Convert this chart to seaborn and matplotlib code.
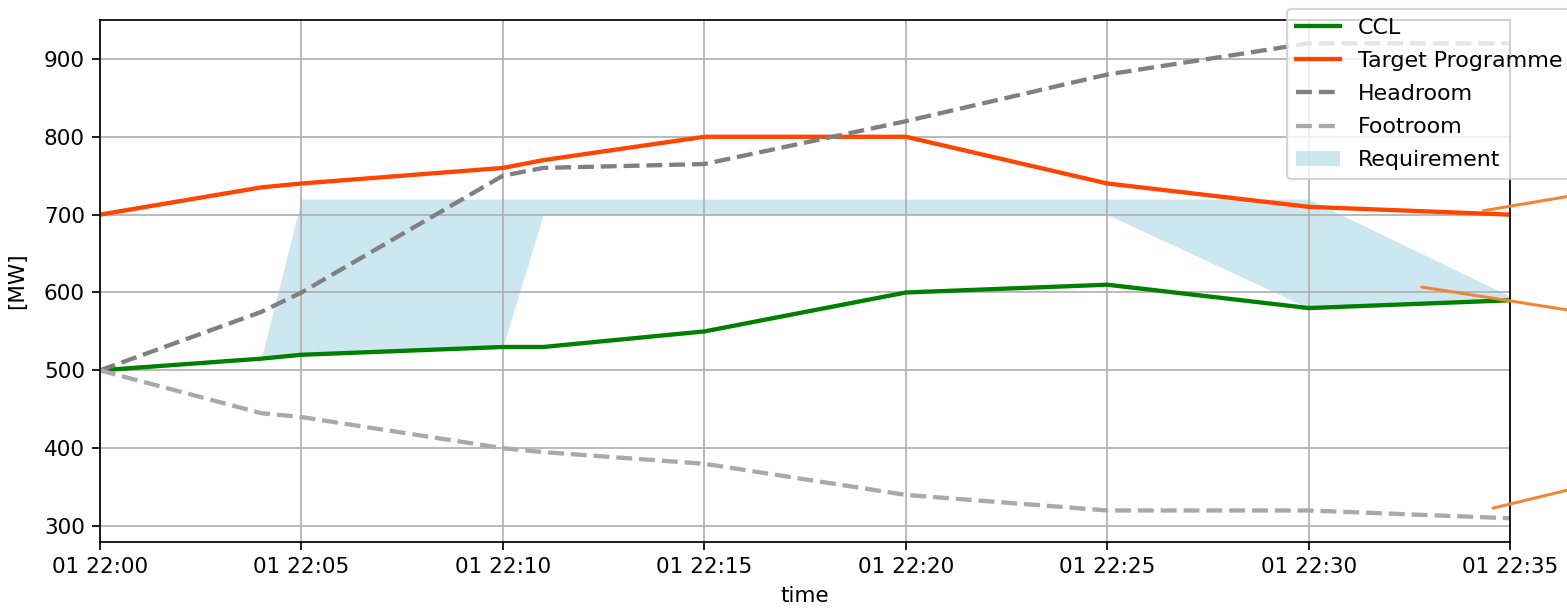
import matplotlib

matplotlib.use("Agg")
import matplotlib.dates as mdates
import matplotlib.pyplot as plt
import pandas as pd
import seaborn as sns

# minutes after 22:00 on day 01
minutes = [0, 4, 5, 10, 11, 15, 20, 25, 30, 35]
ccl = [500, 515, 520, 530, 530, 550, 600, 610, 580, 590]
target = [700, 735, 740, 760, 770, 800, 800, 740, 710, 700]
headroom = [500, 575, 600, 750, 760, 765, 820, 880, 920, 920]
footroom = [500, 445, 440, 400, 395, 380, 340, 320, 320, 310]

req_minutes = [4, 5, 10, 11, 25, 30, 35]
req_lower = [515, 520, 530, 700, 700, 580, 590]
req_upper = [515, 720, 720, 720, 720, 720, 595]

# annotation leader lines: (minute, MW) at the chart, (minute, MW) off to the right
note_points = [(34.33, 705), (32.8, 607), (34.57, 323)]
note_text_points = [(39.7, 752), (39.7, 551), (39.7, 387)]

start = pd.Timestamp("2024-01-01 22:00")


def to_time(mins):
    return [start + pd.Timedelta(minutes=m) for m in mins]


frame = pd.DataFrame(
    {
        "time": to_time(minutes),
        "CCL": ccl,
        "Target Programme": target,
        "Headroom": headroom,
        "Footroom": footroom,
    }
)
req = pd.DataFrame({"time": to_time(req_minutes), "lower": req_lower, "upper": req_upper})

fig = plt.figure(figsize=(1567 / 155, 609 / 155), dpi=155)
ax = fig.add_axes([0.0638, 0.110, 0.9, 0.8578])

sns.lineplot(data=frame, x="time", y="CCL", color="green", lw=2, label="CCL", ax=ax)
sns.lineplot(data=frame, x="time", y="Target Programme", color="orangered", lw=2,
             label="Target Programme", ax=ax)
sns.lineplot(data=frame, x="time", y="Headroom", color="grey", lw=2, linestyle="--",
             label="Headroom", ax=ax)
sns.lineplot(data=frame, x="time", y="Footroom", color="darkgrey", lw=2, linestyle="--",
             label="Footroom", ax=ax)
ax.fill_between(req["time"], req["lower"], req["upper"], color="lightblue", alpha=0.6,
                linewidth=0, label="Requirement")

for (mx, my), (tx, ty) in zip(note_points, note_text_points):
    ax.annotate(
        "",
        xy=(mdates.date2num(start + pd.Timedelta(minutes=mx)), my),
        xytext=(mdates.date2num(start + pd.Timedelta(minutes=tx)), ty),
        arrowprops=dict(arrowstyle="-", color="#f28533", lw=1.4, shrinkA=0, shrinkB=0),
        annotation_clip=False,
    )

ax.set_xlim(frame["time"].iloc[0], frame["time"].iloc[-1])
ax.xaxis.set_major_locator(mdates.MinuteLocator(byminute=range(0, 60, 5)))
ax.xaxis.set_major_formatter(mdates.DateFormatter("%d %H:%M"))
ax.set_xlabel("time")
ax.set_ylabel("[MW]", labelpad=8)
ax.grid(True)
ax.legend(loc="upper left", bbox_to_anchor=(0.834, 1.042), fontsize=10.25, labelspacing=0.6)

fig.savefig("out.png", dpi=155)
